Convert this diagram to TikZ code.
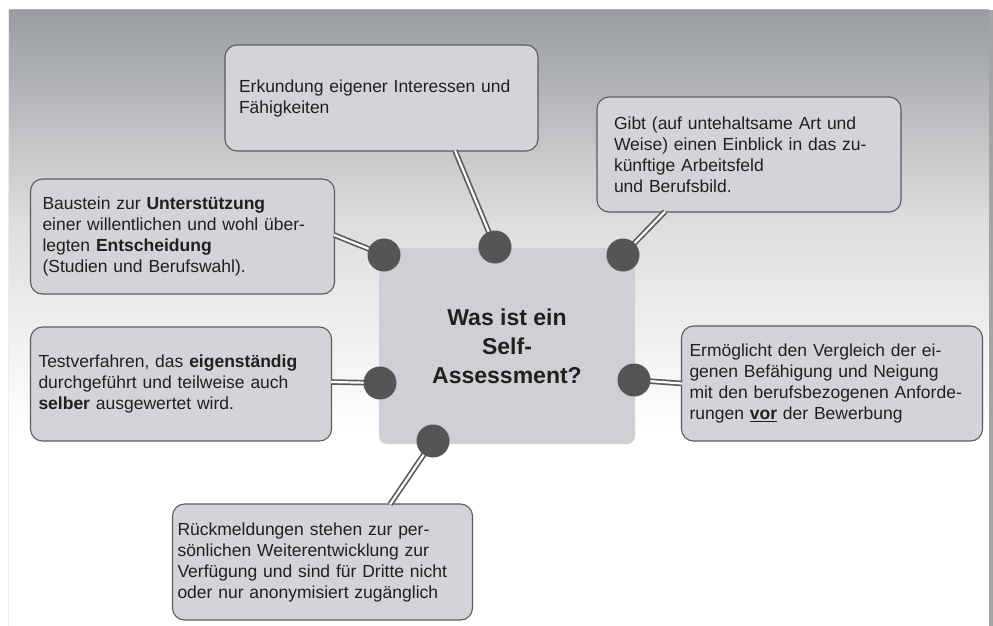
\documentclass[tikz,border=0pt]{standalone}
\usepackage{fontspec}
\setmainfont{Liberation Sans}
\usetikzlibrary{calc}
\definecolor{bgtop}{HTML}{999CA0}
\definecolor{bgmid}{HTML}{DCDDDE}
\definecolor{boxfill}{HTML}{D3D4D7}
\definecolor{boxline}{HTML}{5A5B5D}
\definecolor{ctrfill}{HTML}{CFD0D3}
\definecolor{dotfill}{HTML}{545557}
\definecolor{txt}{HTML}{231F20}
\definecolor{barcol}{HTML}{A3A4A6}
\tikzset{
  infobox/.style={draw=boxline, line width=1.1pt, fill=boxfill, rounded corners=12pt,
    align=left, text=txt, font=\fontsize{17.5}{21}\selectfont, inner ysep=0pt},
  ctrbox/.style={fill=ctrfill, rounded corners=8pt, minimum width=256pt, minimum height=196pt,
    align=center, text=txt, font=\fontsize{23}{29}\selectfont\bfseries},
  dotnode/.style={circle, fill=dotfill, minimum size=33pt, inner sep=0pt},
  conn/.style={draw=boxline, line width=1.7pt, double=white, double distance=2.2pt}
}
\begin{document}
\begin{tikzpicture}[x=1pt,y=-1pt]
\useasboundingbox (0,0) rectangle (993,626);
% background
\fill[white] (0,0) rectangle (993,626);
\shade[top color=bgtop, bottom color=bgmid] (9,10) rectangle (989,220);
\shade[top color=bgmid, bottom color=white] (9,220) rectangle (989,430);
\draw[color=gray!60, line width=1pt] (9,10) -- (989,10);
\draw[color=gray!15, line width=1pt] (8.5,10) -- (8.5,626);
\fill[barcol] (989,10) rectangle (993,626);
% centre
\node[ctrbox] (ctr) at (507,346) {Was ist ein\\Self-\\Assessment?};
% boxes
\node[infobox, minimum width=305pt, minimum height=106pt, inner xsep=14pt, text width=285pt] (b1) at (381.5,98)
  {Erkundung eigener Interessen und\\Fähigkeiten};
\node[infobox, minimum width=298pt, minimum height=115pt, inner xsep=17pt, text width=270pt] (b2) at (749,154.5)
  {Gibt (auf untehaltsame Art und\\Weise) einen Einblick in das zu-\\künftige Arbeitsfeld\\und Berufsbild.};
\node[infobox, minimum width=299pt, minimum height=115pt, inner xsep=12pt, text width=280pt] (b3) at (182.5,236.5)
  {Baustein zur \textbf{Unterstützung}\\einer willentlichen und wohl über-\\legten \textbf{Entscheidung}\\(Studien und Berufswahl).};
\node[infobox, minimum width=298pt, minimum height=114pt, inner xsep=8pt, text width=285pt] (b4) at (181,384)
  {Testverfahren, das \textbf{eigenständig}\\durchgeführt und teilweise auch\\\textbf{selber} ausgewertet wird.};
\node[infobox, minimum width=298pt, minimum height=115pt, inner xsep=8pt, text width=285pt] (b5) at (832,383.5)
  {Ermöglicht den Vergleich der ei-\\genen Befähigung und Neigung\\mit den berufsbezogenen Anforde-\\rungen \underline{\textbf{vor}} der Bewerbung};
\node[infobox, minimum width=299pt, minimum height=116pt, inner xsep=5pt, text width=290pt] (b6) at (322.5,562)
  {Rückmeldungen stehen zur per-\\sönlichen Weiterentwicklung zur\\Verfügung und sind für Dritte nicht\\oder nur anonymisiert zugänglich};
% connector end points on the boxes
\coordinate (c1) at ($(b1.south)+(73.5,-1)$);
\coordinate (c2) at ($(b2.south)+(-84,-1)$);
\coordinate (c3) at ($(b3.east)+(-1,-1.5)$);
\coordinate (c4) at ($(b4.east)+(-1,-2)$);
\coordinate (c5) at ($(b5.west)+(1,0)$);
\coordinate (c6) at ($(b6.north)+(67.5,1)$);
% dots
\coordinate (p1) at (495,247);
\coordinate (p2) at (384,255);
\coordinate (p3) at (623,255);
\coordinate (p4) at (380,383);
\coordinate (p5) at (634,380);
\coordinate (p6) at (433,441);
\path[conn] (c1) -- (p1);
\path[conn] (c2) -- (p3);
\path[conn] (c3) -- (p2);
\path[conn] (c4) -- (p4);
\path[conn] (c5) -- (p5);
\path[conn] (c6) -- (p6);
\node[dotnode] (d1) at (p1) {};
\node[dotnode] (d2) at (p2) {};
\node[dotnode] (d3) at (p3) {};
\node[dotnode] (d4) at (p4) {};
\node[dotnode] (d5) at (p5) {};
\node[dotnode] (d6) at (p6) {};
\end{tikzpicture}
\end{document}
